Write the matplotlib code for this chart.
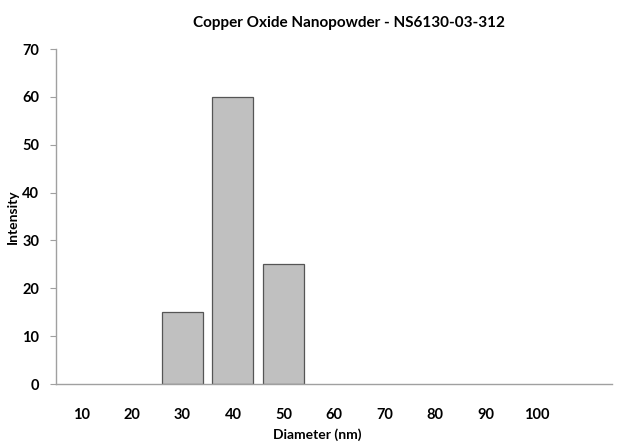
import matplotlib
matplotlib.use("Agg")
import matplotlib.pyplot as plt

categories = ["10", "20", "30", "40", "50", "60", "70", "80", "90", "100", ""]
intensity = [0, 0, 15, 60, 25, 0, 0, 0, 0, 0, 0]
y_ticks = [0, 10, 20, 30, 40, 50, 60, 70]

plt.rcParams['font.family'] = ['Lato', 'DejaVu Sans']
plt.rcParams['font.weight'] = 'bold'

fig = plt.figure(figsize=(6.24, 4.46), dpi=100)
ax = fig.add_axes([0.0897, 0.139, 0.8913, 0.751])

x = list(range(len(categories)))
edge = ['#555555' if v > 0 else 'none' for v in intensity]
ax.bar(x, intensity, width=0.81, color='#c0c0c0', edgecolor=edge, linewidth=0.9, zorder=2)

ax.set_xlim(-0.5, len(categories) - 0.5)
ax.set_ylim(0, 70)
ax.set_yticks(y_ticks)
ax.set_xticks(x)
ax.set_xticklabels(categories)

for s in ['top', 'right']:
    ax.spines[s].set_visible(False)
for s in ['left', 'bottom']:
    ax.spines[s].set_color('#a0a0a0')
    ax.spines[s].set_linewidth(1.0)
    ax.spines[s].set_zorder(3)

ax.tick_params(axis='y', length=4, color='#a0a0a0', labelsize=10.5, pad=8)
ax.tick_params(axis='x', length=0, labelsize=10.5, pad=17)
for lab in ax.get_xticklabels() + ax.get_yticklabels():
    lab.set_fontweight('bold')

ax.set_xlabel('Diameter (nm)', fontsize=10, fontweight='bold')
ax.xaxis.set_label_coords(0.469, -0.133)
ax.set_ylabel('Intensity', fontsize=10, fontweight='bold')
ax.yaxis.set_label_coords(-0.066, 0.5)
fig.suptitle('Copper Oxide Nanopowder - NS6130-03-312', fontsize=11, fontweight='bold', x=0.56, y=0.965)

fig.savefig('out.png', dpi=100)
